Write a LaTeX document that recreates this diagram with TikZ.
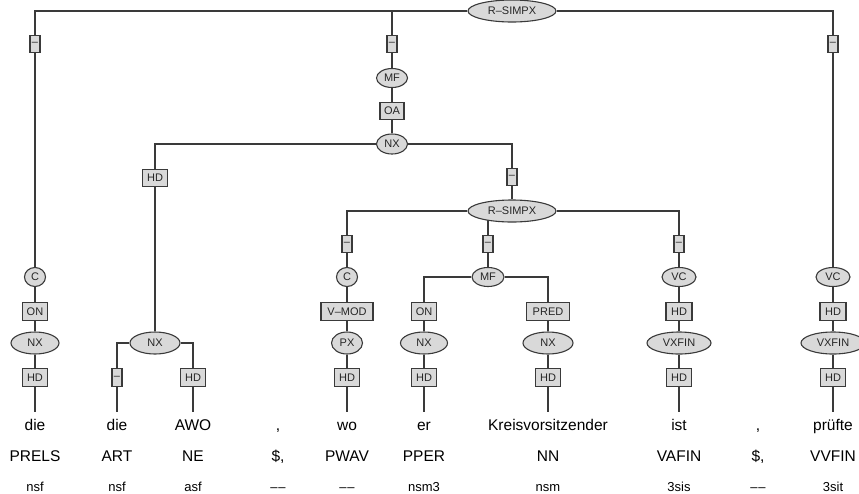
\documentclass[tikz,border=0pt]{standalone}
\usepackage{fontspec}
\setmainfont{Liberation Sans}
\usetikzlibrary{shapes.geometric,backgrounds}
\definecolor{ln}{HTML}{3A3A3A}
\definecolor{fl}{HTML}{D9D9D9}
\begin{document}
\begin{tikzpicture}[x=1pt,y=-1pt,
  edge/.style={draw=ln,line width=1.2pt},
  ell/.style={ellipse,draw=ln,fill=fl,line width=1.1pt,inner sep=0pt,font=\fontsize{11}{12}\selectfont,text=black!85},
  bx/.style={rectangle,draw=ln,fill=fl,line width=1.1pt,inner sep=0pt,minimum height=17pt,font=\fontsize{11}{12}\selectfont,text=black!85},
  dbx/.style={bx,minimum width=10pt},
  word/.style={font=\fontsize{15.5}{17}\selectfont,anchor=base},
  postag/.style={font=\fontsize{15.5}{17}\selectfont,anchor=base},
  morph/.style={font=\fontsize{13}{14}\selectfont,anchor=base}]
\useasboundingbox (0,0) rectangle (859,493);
% upper structure
\node[ell,minimum width=88pt,minimum height=22pt] (root) at (512,11) {R–SIMPX};
\node[dbx] (d1) at (35,44) {–};
\node[dbx] (d2) at (392,44) {–};
\node[dbx] (d3) at (833,44) {–};
\node[ell,minimum width=31pt,minimum height=19pt] (mf1) at (392,78) {MF};
\node[bx,minimum width=24pt] (oa) at (392,111) {OA};
\node[ell,minimum width=31pt,minimum height=20pt] (nx1) at (392,144) {NX};
\node[bx,minimum width=25pt] (hd1) at (155,178) {HD};
\node[dbx] (d4) at (512,177) {–};
\node[ell,minimum width=88pt,minimum height=22pt] (rs2) at (512,211) {R–SIMPX};
\node[dbx] (d5) at (347,244) {–};
\node[dbx] (d6) at (488,244) {–};
\node[dbx] (d7) at (679,244) {–};
% C/MF/VC row
\node[ell,minimum width=21pt,minimum height=19pt] (c1) at (35,277) {C};
\node[ell,minimum width=21pt,minimum height=19pt] (c2) at (347,277) {C};
\node[ell,minimum width=32pt,minimum height=19pt] (mf2) at (488,277) {MF};
\node[ell,minimum width=34pt,minimum height=19pt] (vc1) at (679,277) {VC};
\node[ell,minimum width=34pt,minimum height=19pt] (vc2) at (833,277) {VC};
% function row
\node[bx,minimum width=25pt,minimum height=17.5pt] (on1) at (35,311.5) {ON};
\node[bx,minimum width=52pt,minimum height=17.5pt] (vmod) at (347,311.5) {V–MOD};
\node[bx,minimum width=25pt,minimum height=17.5pt] (on2) at (424,311.5) {ON};
\node[bx,minimum width=43pt,minimum height=17.5pt] (pred) at (548,311.5) {PRED};
\node[bx,minimum width=26pt,minimum height=17.5pt] (hd2) at (679,311.5) {HD};
\node[bx,minimum width=26pt,minimum height=17.5pt] (hd3) at (833,311.5) {HD};
% phrase row
\node[ell,minimum width=48pt,minimum height=22pt] (nxa) at (35,343) {NX};
\node[ell,minimum width=50pt,minimum height=22pt] (nxb) at (155,343) {NX};
\node[ell,minimum width=31pt,minimum height=22pt] (px) at (347,343) {PX};
\node[ell,minimum width=47pt,minimum height=22pt] (nxc) at (424,343) {NX};
\node[ell,minimum width=50pt,minimum height=22pt] (nxd) at (548,343) {NX};
\node[ell,minimum width=64pt,minimum height=22pt] (vxa) at (679,343) {VXFIN};
\node[ell,minimum width=64pt,minimum height=22pt] (vxb) at (833,343) {VXFIN};
% head row
\node[bx,minimum width=25pt,minimum height=17.5pt] (h1) at (35,377.5) {HD};
\node[dbx,minimum height=17.5pt] (h2) at (117,377.5) {–};
\node[bx,minimum width=25pt,minimum height=17.5pt] (h3) at (193,377.5) {HD};
\node[bx,minimum width=25pt,minimum height=17.5pt] (h5) at (347,377.5) {HD};
\node[bx,minimum width=25pt,minimum height=17.5pt] (h6) at (424,377.5) {HD};
\node[bx,minimum width=25pt,minimum height=17.5pt] (h7) at (548,377.5) {HD};
\node[bx,minimum width=25pt,minimum height=17.5pt] (h8) at (679,377.5) {HD};
\node[bx,minimum width=25pt,minimum height=17.5pt] (h10) at (833,377.5) {HD};
% leaf line ends
\foreach \n/\x in {1/35,2/117,3/193,5/347,6/424,7/548,8/679,10/833}
  \coordinate (t\n) at (\x,412);
% words
\node[word] (w1) at (35,430) {die};
\node[word] (w2) at (117,430) {die};
\node[word] (w3) at (193,430) {AWO};
\node[word] (w4) at (278,430) {,};
\node[word] (w5) at (347,430) {wo};
\node[word] (w6) at (424,430) {er};
\node[word] (w7) at (548,430) {Kreisvorsitzender};
\node[word] (w8) at (679,430) {ist};
\node[word] (w9) at (758,430) {,};
\node[word] (w10) at (833,430) {prüfte};
\node[postag] (p1) at (35,461) {PRELS};
\node[postag] (p2) at (117,461) {ART};
\node[postag] (p3) at (193,461) {NE};
\node[postag] (p4) at (278,461) {\$,};
\node[postag] (p5) at (347,461) {PWAV};
\node[postag] (p6) at (424,461) {PPER};
\node[postag] (p7) at (548,461) {NN};
\node[postag] (p8) at (679,461) {VAFIN};
\node[postag] (p9) at (758,461) {\$,};
\node[postag] (p10) at (833,461) {VVFIN};
\node[morph] (m1) at (35,491) {nsf};
\node[morph] (m2) at (117,491) {nsf};
\node[morph] (m3) at (193,491) {asf};
\node[morph] (m4) at (278,491) {–\kern0.8pt–};
\node[morph] (m5) at (347,491) {–\kern0.8pt–};
\node[morph] (m6) at (424,491) {nsm3};
\node[morph] (m7) at (548,491) {nsm};
\node[morph] (m8) at (679,491) {3sis};
\node[morph] (m9) at (758,491) {–\kern0.8pt–};
\node[morph] (m10) at (833,491) {3sit};
% edges
\begin{scope}[on background layer]
\draw[edge] (root) -| (d1);
\draw[edge] (root) -| (d2);
\draw[edge] (root) -| (d3);
\draw[edge] (d1) -- (c1) -- (on1) -- (nxa) -- (h1) -- (t1);
\draw[edge] (d2) -- (mf1) -- (oa) -- (nx1);
\draw[edge] (nx1) -| (hd1);
\draw[edge] (nx1) -| (d4);
\draw[edge] (hd1) -- (nxb);
\draw[edge] (nxb) -| (h2);
\draw[edge] (nxb) -| (h3);
\draw[edge] (h2) -- (t2);
\draw[edge] (h3) -- (t3);
\draw[edge] (d4) -- (rs2);
\draw[edge] (rs2) -| (d5);
\draw[edge] (rs2) -| (d7);
\draw[edge] (d6) -- (d6 |- rs2.center);
\draw[edge] (d5) -- (c2) -- (vmod) -- (px) -- (h5) -- (t5);
\draw[edge] (d6) -- (mf2);
\draw[edge] (mf2) -| (on2);
\draw[edge] (mf2) -| (pred);
\draw[edge] (on2) -- (nxc) -- (h6) -- (t6);
\draw[edge] (pred) -- (nxd) -- (h7) -- (t7);
\draw[edge] (d7) -- (vc1) -- (hd2) -- (vxa) -- (h8) -- (t8);
\draw[edge] (d3) -- (vc2) -- (hd3) -- (vxb) -- (h10) -- (t10);
\end{scope}
\end{tikzpicture}
\end{document}
